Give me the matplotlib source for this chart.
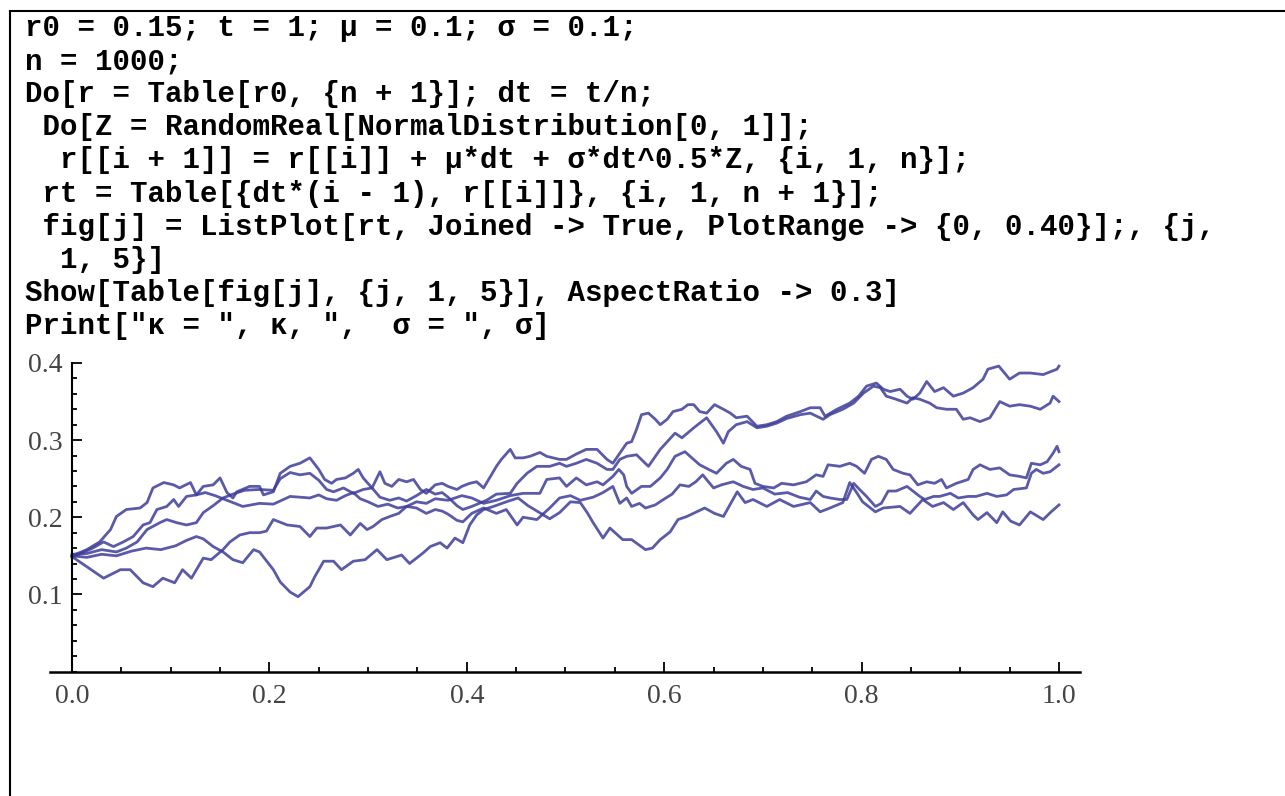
import matplotlib
matplotlib.use("Agg")
import matplotlib.pyplot as plt
from matplotlib.lines import Line2D
from matplotlib.ticker import MultipleLocator, FixedLocator, FormatStrFormatter

# Mathematica notebook input shown above the plot
code_lines = [
    "r0 = 0.15; t = 1; \u03bc = 0.1; \u03c3 = 0.1;",
    "n = 1000;",
    "Do[r = Table[r0, {n + 1}]; dt = t/n;",
    " Do[Z = RandomReal[NormalDistribution[0, 1]];",
    "  r[[i + 1]] = r[[i]] + \u03bc*dt + \u03c3*dt^0.5*Z, {i, 1, n}];",
    " rt = Table[{dt*(i - 1), r[[i]]}, {i, 1, n + 1}];",
    " fig[j] = ListPlot[rt, Joined -> True, PlotRange -> {0, 0.40}];, {j,",
    "  1, 5}]",
    "Show[Table[fig[j], {j, 1, 5}], AspectRatio -> 0.3]",
    "Print[\"\u03ba = \", \u03ba, \",  \u03c3 = \", \u03c3]",
]

# five sample paths (t, r)
path_a = [(0, 0.150), (0.015, 0.158), (0.028, 0.168), (0.039, 0.184), (0.045, 0.201), (0.055, 0.210),
          (0.069, 0.212), (0.076, 0.219), (0.082, 0.238), (0.093, 0.245), (0.103, 0.242), (0.109, 0.238),
          (0.120, 0.245), (0.126, 0.229), (0.133, 0.240), (0.143, 0.242), (0.150, 0.251), (0.157, 0.232),
          (0.163, 0.225), (0.167, 0.233), (0.180, 0.240), (0.190, 0.240), (0.194, 0.229), (0.204, 0.233),
          (0.211, 0.257), (0.221, 0.266), (0.231, 0.270), (0.241, 0.277), (0.250, 0.262), (0.256, 0.249),
          (0.263, 0.244), (0.268, 0.249), (0.277, 0.251), (0.285, 0.257), (0.290, 0.262), (0.295, 0.251),
          (0.304, 0.238), (0.312, 0.259), (0.317, 0.244), (0.324, 0.240), (0.331, 0.249), (0.339, 0.246),
          (0.346, 0.249), (0.353, 0.236), (0.359, 0.231), (0.368, 0.242), (0.375, 0.244), (0.381, 0.240),
          (0.390, 0.236), (0.395, 0.240), (0.403, 0.244), (0.410, 0.246), (0.417, 0.238), (0.424, 0.253),
          (0.430, 0.266), (0.435, 0.275), (0.444, 0.288), (0.449, 0.277), (0.457, 0.277), (0.464, 0.279),
          (0.474, 0.284), (0.481, 0.279), (0.494, 0.275), (0.501, 0.275), (0.511, 0.282), (0.521, 0.288),
          (0.532, 0.288), (0.542, 0.275), (0.548, 0.270), (0.555, 0.283), (0.562, 0.296), (0.567, 0.298),
          (0.572, 0.314), (0.577, 0.333), (0.584, 0.335), (0.591, 0.327), (0.596, 0.320), (0.603, 0.327),
          (0.609, 0.337), (0.618, 0.340), (0.624, 0.346), (0.630, 0.346), (0.636, 0.337), (0.643, 0.335),
          (0.651, 0.346), (0.660, 0.340), (0.667, 0.335), (0.673, 0.329), (0.684, 0.331), (0.694, 0.318),
          (0.704, 0.320), (0.714, 0.324), (0.724, 0.331), (0.738, 0.337), (0.748, 0.342), (0.758, 0.342),
          (0.763, 0.331), (0.775, 0.340), (0.788, 0.348), (0.797, 0.357), (0.805, 0.370), (0.815, 0.374),
          (0.822, 0.366), (0.829, 0.363), (0.839, 0.366), (0.846, 0.357), (0.852, 0.353), (0.859, 0.361),
          (0.866, 0.376), (0.874, 0.363), (0.883, 0.368), (0.893, 0.357), (0.903, 0.361), (0.913, 0.368),
          (0.923, 0.379), (0.928, 0.392), (0.939, 0.396), (0.950, 0.379), (0.960, 0.387), (0.971, 0.387),
          (0.984, 0.385), (0.998, 0.392), (1.0, 0.396)]

path_b = [(0, 0.152), (0.015, 0.153), (0.030, 0.158), (0.045, 0.155), (0.055, 0.160), (0.066, 0.168),
          (0.076, 0.184), (0.089, 0.193), (0.096, 0.197), (0.106, 0.193), (0.116, 0.190), (0.126, 0.193),
          (0.133, 0.206), (0.143, 0.215), (0.153, 0.225), (0.163, 0.230), (0.175, 0.235), (0.190, 0.236),
          (0.204, 0.235), (0.211, 0.250), (0.221, 0.258), (0.231, 0.255), (0.241, 0.257), (0.250, 0.248),
          (0.258, 0.236), (0.265, 0.233), (0.275, 0.238), (0.285, 0.231), (0.295, 0.236), (0.304, 0.238),
          (0.312, 0.226), (0.322, 0.222), (0.331, 0.225), (0.339, 0.221), (0.349, 0.228), (0.359, 0.236),
          (0.368, 0.230), (0.375, 0.232), (0.381, 0.226), (0.390, 0.215), (0.396, 0.210), (0.405, 0.214),
          (0.420, 0.222), (0.430, 0.230), (0.444, 0.231), (0.451, 0.244), (0.461, 0.257), (0.471, 0.266),
          (0.484, 0.266), (0.494, 0.270), (0.501, 0.266), (0.511, 0.270), (0.521, 0.275), (0.532, 0.270),
          (0.542, 0.262), (0.548, 0.262), (0.555, 0.275), (0.562, 0.279), (0.572, 0.281), (0.584, 0.266),
          (0.596, 0.288), (0.611, 0.309), (0.618, 0.303), (0.630, 0.316), (0.643, 0.329), (0.653, 0.311),
          (0.660, 0.296), (0.665, 0.311), (0.673, 0.320), (0.684, 0.324), (0.694, 0.316), (0.704, 0.318),
          (0.714, 0.322), (0.724, 0.328), (0.738, 0.333), (0.748, 0.335), (0.761, 0.327), (0.768, 0.333),
          (0.781, 0.340), (0.792, 0.348), (0.802, 0.361), (0.812, 0.370), (0.819, 0.368), (0.825, 0.357),
          (0.835, 0.353), (0.846, 0.348), (0.852, 0.355), (0.859, 0.353), (0.869, 0.348), (0.876, 0.342),
          (0.886, 0.340), (0.896, 0.340), (0.903, 0.327), (0.910, 0.329), (0.920, 0.324), (0.930, 0.329),
          (0.940, 0.350), (0.950, 0.344), (0.960, 0.346), (0.971, 0.344), (0.981, 0.340), (0.991, 0.348),
          (0.994, 0.357), (1.0, 0.350)]

path_c = [(0, 0.150), (0.015, 0.148), (0.030, 0.152), (0.045, 0.150), (0.060, 0.156), (0.075, 0.160),
          (0.090, 0.158), (0.105, 0.163), (0.116, 0.170), (0.126, 0.175), (0.133, 0.172), (0.143, 0.162),
          (0.153, 0.155), (0.163, 0.145), (0.173, 0.141), (0.184, 0.158), (0.190, 0.155), (0.204, 0.132),
          (0.211, 0.116), (0.221, 0.103), (0.229, 0.097), (0.241, 0.110), (0.246, 0.123), (0.255, 0.143),
          (0.265, 0.143), (0.273, 0.132), (0.285, 0.143), (0.297, 0.145), (0.309, 0.158), (0.319, 0.145),
          (0.334, 0.151), (0.342, 0.140), (0.356, 0.154), (0.363, 0.162), (0.373, 0.167), (0.380, 0.160),
          (0.388, 0.173), (0.396, 0.167), (0.403, 0.190), (0.410, 0.203), (0.417, 0.210), (0.427, 0.214),
          (0.440, 0.220), (0.452, 0.225), (0.462, 0.215), (0.475, 0.205), (0.484, 0.198), (0.494, 0.206),
          (0.505, 0.220), (0.515, 0.219), (0.522, 0.206), (0.528, 0.193), (0.538, 0.173), (0.545, 0.186),
          (0.558, 0.171), (0.567, 0.171), (0.581, 0.158), (0.588, 0.160), (0.596, 0.171), (0.606, 0.181),
          (0.614, 0.197), (0.623, 0.201), (0.641, 0.212), (0.651, 0.205), (0.660, 0.201), (0.674, 0.233),
          (0.682, 0.219), (0.690, 0.223), (0.704, 0.214), (0.717, 0.223), (0.731, 0.214), (0.748, 0.219),
          (0.758, 0.207), (0.768, 0.212), (0.781, 0.219), (0.788, 0.245), (0.795, 0.232), (0.801, 0.220),
          (0.814, 0.207), (0.822, 0.212), (0.839, 0.214), (0.849, 0.205), (0.862, 0.223), (0.872, 0.214),
          (0.883, 0.219), (0.893, 0.210), (0.903, 0.219), (0.913, 0.203), (0.918, 0.197), (0.927, 0.206),
          (0.937, 0.193), (0.943, 0.207), (0.951, 0.195), (0.960, 0.190), (0.971, 0.207), (0.984, 0.197),
          (0.992, 0.207), (1.0, 0.216)]

path_d = [(0, 0.149), (0.032, 0.121), (0.049, 0.132), (0.059, 0.132), (0.072, 0.115), (0.082, 0.110),
          (0.092, 0.121), (0.104, 0.115), (0.112, 0.132), (0.121, 0.121), (0.133, 0.147), (0.141, 0.145),
          (0.153, 0.158), (0.160, 0.168), (0.170, 0.177), (0.180, 0.180), (0.190, 0.180), (0.197, 0.182),
          (0.204, 0.197), (0.218, 0.190), (0.231, 0.188), (0.241, 0.175), (0.248, 0.186), (0.258, 0.186),
          (0.272, 0.190), (0.282, 0.177), (0.292, 0.192), (0.299, 0.184), (0.305, 0.188), (0.314, 0.197),
          (0.322, 0.201), (0.331, 0.205), (0.339, 0.214), (0.349, 0.220), (0.359, 0.218), (0.368, 0.224),
          (0.381, 0.222), (0.395, 0.228), (0.405, 0.225), (0.417, 0.218), (0.430, 0.222), (0.444, 0.228),
          (0.457, 0.231), (0.474, 0.231), (0.481, 0.249), (0.494, 0.251), (0.501, 0.240), (0.511, 0.251),
          (0.521, 0.242), (0.532, 0.246), (0.538, 0.242), (0.548, 0.253), (0.554, 0.262), (0.559, 0.255),
          (0.562, 0.240), (0.567, 0.231), (0.577, 0.240), (0.586, 0.240), (0.596, 0.251), (0.603, 0.262),
          (0.611, 0.279), (0.621, 0.285), (0.628, 0.277), (0.636, 0.268), (0.645, 0.262), (0.653, 0.257),
          (0.663, 0.270), (0.670, 0.275), (0.678, 0.266), (0.687, 0.262), (0.692, 0.244), (0.700, 0.240),
          (0.711, 0.238), (0.719, 0.244), (0.731, 0.242), (0.744, 0.246), (0.754, 0.255), (0.761, 0.253),
          (0.766, 0.268), (0.778, 0.266), (0.788, 0.270), (0.795, 0.266), (0.803, 0.257), (0.810, 0.275),
          (0.817, 0.279), (0.825, 0.275), (0.832, 0.262), (0.842, 0.257), (0.849, 0.255), (0.857, 0.242),
          (0.866, 0.246), (0.874, 0.244), (0.881, 0.249), (0.886, 0.238), (0.896, 0.244), (0.908, 0.249),
          (0.913, 0.262), (0.920, 0.268), (0.930, 0.262), (0.940, 0.264), (0.950, 0.255), (0.960, 0.253),
          (0.967, 0.251), (0.972, 0.270), (0.981, 0.268), (0.988, 0.272), (0.994, 0.283), (0.998, 0.292),
          (1.0, 0.285)]

path_e = [(0, 0.148), (0.021, 0.160), (0.032, 0.168), (0.042, 0.162), (0.052, 0.168), (0.062, 0.175),
          (0.072, 0.190), (0.079, 0.193), (0.086, 0.210), (0.096, 0.214), (0.103, 0.223), (0.108, 0.214),
          (0.116, 0.227), (0.126, 0.229), (0.135, 0.232), (0.145, 0.228), (0.157, 0.222), (0.173, 0.214),
          (0.190, 0.218), (0.204, 0.217), (0.221, 0.227), (0.241, 0.225), (0.250, 0.229), (0.258, 0.224),
          (0.268, 0.222), (0.277, 0.228), (0.285, 0.232), (0.292, 0.224), (0.300, 0.220), (0.310, 0.214),
          (0.320, 0.217), (0.330, 0.212), (0.339, 0.214), (0.349, 0.212), (0.359, 0.205), (0.368, 0.210),
          (0.375, 0.208), (0.381, 0.204), (0.390, 0.196), (0.396, 0.194), (0.405, 0.205), (0.417, 0.212),
          (0.430, 0.205), (0.440, 0.210), (0.451, 0.190), (0.457, 0.200), (0.471, 0.197), (0.484, 0.212),
          (0.494, 0.225), (0.505, 0.228), (0.515, 0.222), (0.528, 0.226), (0.538, 0.232), (0.548, 0.240),
          (0.555, 0.218), (0.562, 0.225), (0.567, 0.214), (0.575, 0.218), (0.581, 0.212), (0.591, 0.216),
          (0.598, 0.222), (0.608, 0.230), (0.616, 0.242), (0.625, 0.240), (0.632, 0.246), (0.639, 0.255),
          (0.650, 0.238), (0.658, 0.242), (0.670, 0.246), (0.680, 0.240), (0.690, 0.236), (0.700, 0.238),
          (0.712, 0.230), (0.725, 0.232), (0.737, 0.226), (0.748, 0.223), (0.754, 0.234), (0.761, 0.227),
          (0.768, 0.225), (0.778, 0.223), (0.785, 0.223), (0.792, 0.244), (0.798, 0.236), (0.805, 0.227),
          (0.814, 0.214), (0.820, 0.218), (0.827, 0.234), (0.835, 0.234), (0.846, 0.240), (0.852, 0.234),
          (0.859, 0.227), (0.864, 0.223), (0.873, 0.227), (0.879, 0.227), (0.890, 0.231), (0.898, 0.225),
          (0.908, 0.227), (0.916, 0.227), (0.927, 0.231), (0.937, 0.227), (0.947, 0.229), (0.954, 0.236),
          (0.967, 0.238), (0.972, 0.257), (0.977, 0.262), (0.984, 0.257), (0.991, 0.259), (1.0, 0.268)]

paths = [path_a, path_b, path_c, path_d, path_e]
y_major = [0.1, 0.2, 0.3, 0.4]

W, H = 1285, 796
fig = plt.figure(figsize=(W / 100, H / 100), dpi=100)
fig.patch.set_facecolor("white")

# notebook cell frame (left and top edges)
fig.add_artist(Line2D([10 / W, 10 / W], [0, 1 - 11 / H], color="black", lw=1.5))
fig.add_artist(Line2D([10 / W, 1], [1 - 11 / H, 1 - 11 / H], color="black", lw=1.5))

# code text
for i, line in enumerate(code_lines):
    y = 1 - (36 + i * 33.1) / H
    fig.text(25 / W, y, line, family=["Liberation Mono", "DejaVu Sans Mono"],
             weight="bold", fontsize=21, va="baseline", ha="left", color="black")

# plot area
ax = fig.add_axes([50 / W, (H - 671.5) / H, 1030 / W, 308.5 / H])
ax.set_facecolor("none")
for p in paths:
    t = [q[0] for q in p]
    r = [q[1] for q in p]
    ax.plot(t, r, color="#3d3d99", lw=2.0, alpha=0.85, solid_joinstyle="round")

ax.set_xlim(-0.0223, 1.0213)
ax.set_ylim(0, 0.4)
ax.spines["top"].set_visible(False)
ax.spines["right"].set_visible(False)
ax.spines["left"].set_position(("data", 0))
ax.spines["left"].set_bounds(0, 0.4)
ax.spines["left"].set_linewidth(1.5)
ax.spines["bottom"].set_linewidth(1.8)

ax.xaxis.set_major_locator(MultipleLocator(0.2))
ax.xaxis.set_minor_locator(MultipleLocator(0.05))
ax.xaxis.set_major_formatter(FormatStrFormatter("%.1f"))
ax.yaxis.set_major_locator(FixedLocator(y_major))
ax.yaxis.set_minor_locator(MultipleLocator(0.02))
ax.yaxis.set_major_formatter(FormatStrFormatter("%.1f"))

ax.tick_params(which="both", direction="in", color="black", width=1.3)
ax.tick_params(which="major", length=7)
ax.tick_params(which="minor", length=3.5)
ax.tick_params(axis="x", which="major", pad=9)
ax.tick_params(axis="y", which="major", pad=7)
for lab in ax.get_xticklabels() + ax.get_yticklabels():
    lab.set_family(["Liberation Serif", "DejaVu Serif"])
    lab.set_fontsize(20)
    lab.set_color("#444444")

fig.savefig("out.png", dpi=100, facecolor="white")
